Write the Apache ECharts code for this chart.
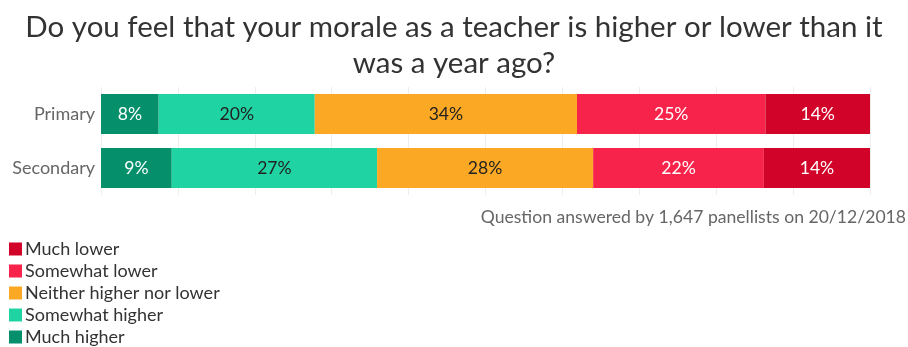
<!DOCTYPE html>
<html><head><meta charset="utf-8">
<script src="https://cdn.jsdelivr.net/npm/echarts@6/dist/echarts.min.js"></script>
<style>html,body{margin:0;padding:0;background:#fff}#c{width:908px;height:347px}</style>
</head><body><div id="c"></div>
<script>
const categories = ['Primary', 'Secondary'];
const seriesNames = ['Much higher', 'Somewhat higher', 'Neither higher nor lower', 'Somewhat lower', 'Much lower'];
const muchHigher = [7.5, 9.2];
const somewhatHigher = [20.3, 26.7];
const neither = [34.1, 28.1];
const somewhatLower = [24.5, 22.2];
const muchLower = [13.6, 13.8];
const colors = ['#058f6b', '#20d3a3', '#fba925', '#f8234a', '#d10328'];
const labelColors = ['#fff', '#222', '#222', '#fff', '#fff'];
const values = [muchHigher, somewhatHigher, neither, somewhatLower, muchLower];
const titleText = 'Do you feel that your morale as a teacher is higher or lower than it\nwas a year ago?';
const noteText = 'Question answered by 1,647 panellists on 20/12/2018';

const chart = echarts.init(document.getElementById('c'));
chart.setOption({
  animation: false,
  textStyle: { fontFamily: 'Lato' },
  title: {
    text: titleText, left: 'center', top: 4,
    textStyle: { fontFamily: 'Lato', fontSize: 29.5, fontWeight: 'normal', color: '#333', lineHeight: 36, align: 'center' }
  },
  legend: {
    orient: 'vertical', left: 4, top: 235, height: 200, itemWidth: 13, itemHeight: 13, itemGap: 4,
    icon: 'rect',
    data: seriesNames.slice().reverse(),
    textStyle: { fontFamily: 'Lato', fontSize: 18, lineHeight: 18, color: '#333', padding: [0, 0, 0, -2] }
  },
  grid: { left: 101, right: 38, top: 87, bottom: 152 },
  xAxis: {
    type: 'value', min: 0, max: 100, interval: 10,
    axisLabel: { show: false }, axisLine: { show: false }, axisTick: { show: false },
    splitLine: { lineStyle: { color: '#eeeeee' } }
  },
  yAxis: {
    type: 'category', data: categories, inverse: true,
    axisLine: { show: false }, axisTick: { show: false },
    axisLabel: { fontFamily: 'Lato', fontSize: 18, color: '#666', margin: 6 }
  },
  graphic: [{
    type: 'text', right: 2, top: 208,
    style: { text: noteText, fontFamily: 'Lato', fontSize: 17.6, fill: '#666' }
  }],
  series: seriesNames.map((n, i) => ({
    name: n, type: 'bar', stack: 'all', barWidth: 40,
    data: values[i],
    itemStyle: { color: colors[i] },
    label: {
      show: true, position: 'inside', fontFamily: 'Lato', fontSize: 17.6, color: labelColors[i],
      formatter: p => Math.round(p.value) + '%'
    }
  }))
});
</script></body></html>
